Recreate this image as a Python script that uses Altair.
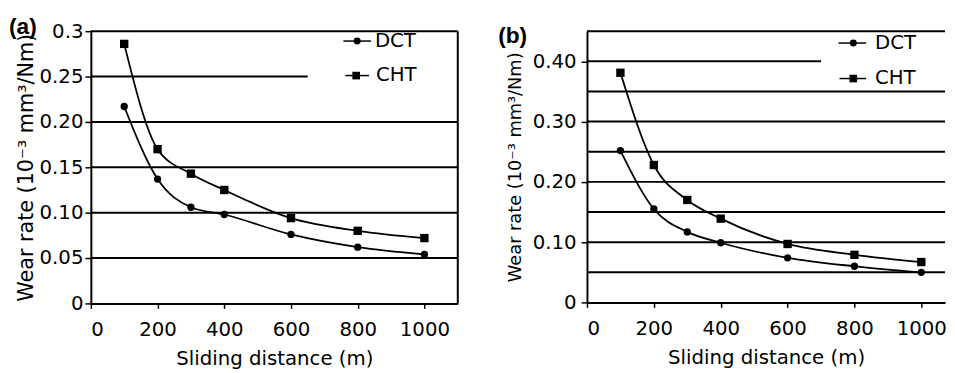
import altair as alt
import pandas as pd

distance = [100, 200, 300, 400, 600, 800, 1000]
a_dct = [0.217, 0.137, 0.106, 0.098, 0.076, 0.062, 0.054]
a_cht = [0.286, 0.170, 0.143, 0.125, 0.094, 0.080, 0.072]
b_dct = [0.252, 0.155, 0.117, 0.099, 0.074, 0.060, 0.050]
b_cht = [0.381, 0.228, 0.170, 0.139, 0.097, 0.079, 0.067]
series = ["DCT", "CHT"]
x_ticks = [0, 200, 400, 600, 800, 1000]

a_ticks = [0, 0.05, 0.10, 0.15, 0.20, 0.25, 0.30]
a_grid_y = [0.05, 0.10, 0.15, 0.20, 0.25, 0.30]
a_grid_end = [1100, 1100, 1100, 1100, 650, 1100]
b_ticks = [0, 0.05, 0.10, 0.15, 0.20, 0.25, 0.30, 0.35, 0.40, 0.45]
b_grid_y = [0.05, 0.10, 0.15, 0.20, 0.25, 0.30, 0.35, 0.40, 0.45]
b_grid_end = [1071, 1071, 1071, 1071, 1071, 1071, 1071, 700, 1071]

FONT = "DejaVu Sans"
Y_TITLE = "Wear rate (10\u207b\u00b3 mm\u00b3/Nm)"


def panel(label, label_pos, dct, cht, ymax, xmax, ticks, grid_y, grid_end, width, height,
          fs, yfs, xfs, ypads, label_expr, legend_pos, right_border):
    df = pd.DataFrame({
        "d": distance * 2,
        "w": dct + cht,
        "s": [series[0]] * len(distance) + [series[1]] * len(distance),
    })
    xs = alt.Scale(domain=[0, xmax], nice=False, zero=False)
    ys = alt.Scale(domain=[0, ymax], nice=False)
    xenc = alt.X("d:Q", scale=xs, axis=alt.Axis(
        values=x_ticks, format="d", title="Sliding distance (m)",
        labelFontSize=fs, titleFontSize=xfs, labelPadding=12, titlePadding=9,
        tickSize=5))
    yenc = alt.Y("w:Q", scale=ys, axis=alt.Axis(
        values=ticks, labelExpr=label_expr, title=Y_TITLE,
        labelFontSize=fs, titleFontSize=yfs, labelPadding=ypads[0], titlePadding=ypads[1],
        tickSize=6))

    gdf = pd.DataFrame({"y": grid_y, "x0": [0] * len(grid_y), "x1": grid_end})
    grid = alt.Chart(gdf).mark_rule(color="black", strokeWidth=2).encode(
        x=alt.X("x0:Q", scale=xs), x2="x1:Q", y=alt.Y("y:Q", scale=ys))

    lines = alt.Chart(df).mark_line(
        color="black", strokeWidth=1.8, interpolate="monotone").encode(
        x=xenc, y=yenc, detail="s:N")
    pts = alt.Chart(df).mark_point(filled=True, color="black", opacity=1).encode(
        x="d:Q", y="w:Q",
        shape=alt.Shape("s:N", scale=alt.Scale(domain=series, range=["circle", "square"]), legend=None),
        size=alt.Size("s:N", scale=alt.Scale(domain=series, range=[55, 72]), legend=None))

    layers = [grid, lines, pts]
    if right_border:
        rb = alt.Chart(pd.DataFrame({"x": [xmax], "y0": [0], "y1": [ymax]})).mark_rule(
            color="black", strokeWidth=2).encode(
            x=alt.X("x:Q", scale=xs), y=alt.Y("y0:Q", scale=ys), y2="y1:Q")
        layers.append(rb)

    one = pd.DataFrame({"k": [0]})
    for name, shape, (lx0, lx1, mx, tx, ty) in zip(series, ["circle", "square"], legend_pos):
        layers.append(alt.Chart(one).mark_rule(color="black", strokeWidth=1.5).encode(
            x=alt.value(lx0), x2=alt.value(lx1), y=alt.value(ty)))
        layers.append(alt.Chart(one).mark_point(
            filled=True, color="black", opacity=1, shape=shape, size=50 if shape == "circle" else 60).encode(
            x=alt.value(mx), y=alt.value(ty)))
        layers.append(alt.Chart(one).mark_text(
            text=name, align="left", baseline="middle", fontSize=20, font=FONT, color="black").encode(
            x=alt.value(tx), y=alt.value(ty)))

    layers.append(alt.Chart(one).mark_text(
        text=label, align="left", baseline="alphabetic", fontSize=23, fontWeight="bold",
        font="Liberation Sans", color="black").encode(
        x=alt.value(label_pos[0]), y=alt.value(label_pos[1])))

    return alt.layer(*layers).properties(width=width, height=height)


a_expr = ("datum.value == 0 ? '0' : abs(datum.value - 0.3) < 1e-6 ? '0.3' : "
          "format(datum.value, '.2f')")
b_expr = ("datum.value == 0 ? '0' : (round(datum.value * 100) % 10 == 0 ? "
          "format(datum.value, '.2f') : '')")

pa = panel("(a)", (-83, 3), a_dct, a_cht, 0.3, 1100, a_ticks, a_grid_y, a_grid_end, 372, 276,
           20, 21, 20, (2, 3), a_expr,
           [(256, 284, 270, 288, 10), (258, 282, 269, 289, 45)], True)
pb = panel("(b)", (-90, 12), b_dct, b_cht, 0.45, 1071, b_ticks, b_grid_y, b_grid_end, 363, 275,
           20, 18, 20, (5, 8), b_expr,
           [(255, 283, 270, 292, 12), (256, 283, 270, 292, 48)], False)

chart = alt.hconcat(pa, pb, spacing=40).properties(
    padding={"left": 1, "top": 6, "right": 0, "bottom": 0}).configure_view(
    stroke=None).configure_axis(
    domainColor="black", domainWidth=2, tickColor="black", tickWidth=1.5,
    labelColor="black", titleColor="black", labelFont=FONT, titleFont=FONT,
    grid=False, titleFontWeight="normal")

chart.save("out.html", embed_options={"renderer": "svg", "actions": False})
